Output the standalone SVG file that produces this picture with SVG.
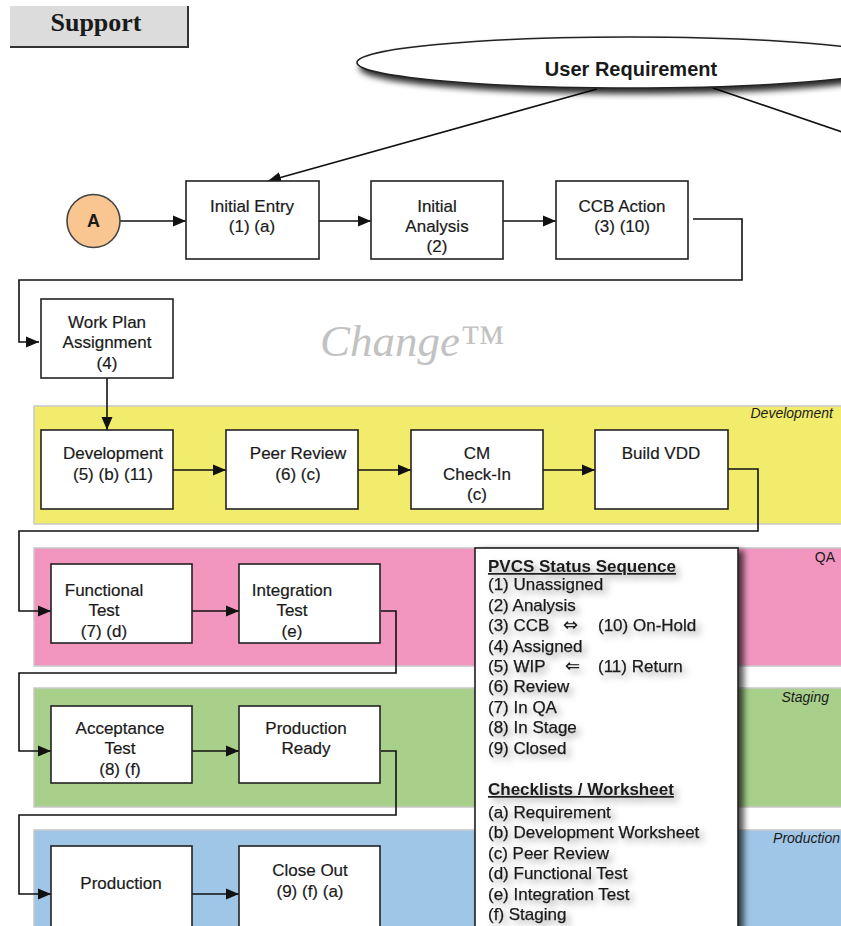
<svg xmlns="http://www.w3.org/2000/svg" width="841" height="926" viewBox="0 0 841 926">
  <defs>
    <marker id="arrow" markerUnits="userSpaceOnUse" markerWidth="14" markerHeight="12" refX="13" refY="6" orient="auto">
      <path d="M0,0.5 L13,6 L0,11.5 z" fill="#111"/>
    </marker>
    <filter id="dropShadow" x="-10%" y="-30%" width="130%" height="180%">
      <feGaussianBlur in="SourceAlpha" stdDeviation="3"/>
      <feOffset dx="3" dy="5" result="blur"/>
      <feComponentTransfer><feFuncA type="linear" slope="0.85"/></feComponentTransfer>
      <feMerge><feMergeNode/><feMergeNode in="SourceGraphic"/></feMerge>
    </filter>
    <filter id="boxShadow" x="-10%" y="-5%" width="130%" height="120%">
      <feGaussianBlur in="SourceAlpha" stdDeviation="3"/>
      <feOffset dx="5" dy="3"/>
      <feComponentTransfer><feFuncA type="linear" slope="0.7"/></feComponentTransfer>
      <feMerge><feMergeNode/><feMergeNode in="SourceGraphic"/></feMerge>
    </filter>
    <filter id="textHalo" x="-10%" y="-30%" width="130%" height="190%">
      <feGaussianBlur in="SourceAlpha" stdDeviation="3.5"/>
      <feOffset dx="4" dy="4"/>
      <feComponentTransfer><feFuncA type="linear" slope="0.35"/></feComponentTransfer>
      <feMerge><feMergeNode/><feMergeNode in="SourceGraphic"/></feMerge>
    </filter>
  </defs>
  <style>
    text { font-family: "Liberation Sans", Arial, sans-serif; fill: #1a1a1a; }
    .lbl { font-size: 17px; text-anchor: middle; stroke: #1a1a1a; stroke-width: 0.2; }
    .box { fill: #ffffff; stroke: #222; stroke-width: 1.6; }
    .band { stroke: #c8c8c8; stroke-width: 1.5; }
    .zone { font-size: 14px; font-style: italic; text-anchor: end; }
    .conn { fill: none; stroke: #111; stroke-width: 1.6; }
    .arr { marker-end: url(#arrow); }
    .legend { font-size: 17px; stroke: #1a1a1a; stroke-width: 0.25; }
    text.sym { font-family: "DejaVu Sans", sans-serif; font-size: 18px; stroke-width: 0.1; }
    .head { font-size: 17px; font-weight: bold; text-decoration: underline; }
  </style>

  <rect width="841" height="926" fill="#ffffff"/>

  <!-- swimlane bands -->
  <g id="band-development">
    <rect class="band" x="34" y="406" width="820" height="118" fill="#f2ec6c"/>
    <text class="zone" x="833" y="418">Development</text>
  </g>
  <g id="band-qa">
    <rect class="band" x="34" y="548" width="820" height="118" fill="#f296bf"/>
    <text class="zone" x="835" y="562" style="font-style:normal">QA</text>
  </g>
  <g id="band-staging">
    <rect class="band" x="34" y="688" width="820" height="119" fill="#a8d08b"/>
    <text class="zone" x="829" y="702">Staging</text>
  </g>
  <g id="band-production">
    <rect class="band" x="34" y="830" width="820" height="110" fill="#9fc5e7"/>
    <text class="zone" x="840" y="843">Production</text>
  </g>

  <!-- title tab -->
  <g id="support">
    <rect x="10" y="6" width="178" height="41" fill="#dcdcdc"/>
    <path d="M188,6 V47 H10" fill="none" stroke="#333" stroke-width="2"/>
    <text x="96" y="31" style="font-family:'Liberation Serif','Times New Roman',serif;font-weight:bold;font-size:26px;text-anchor:middle">Support</text>
  </g>

  <!-- watermark -->
  <text x="320" y="356" style="font-family:'Liberation Serif','Times New Roman',serif;font-style:italic;font-size:45px;fill:#c2c2c2">Change™</text>

  <!-- connectors -->
  <g id="connectors">
    <path class="conn arr" d="M597,89 L268,181"/>
    <path class="conn" d="M713,88 L845,133"/>
    <path class="conn arr" d="M120,221 H186"/>
    <path class="conn arr" d="M319,221 H371"/>
    <path class="conn arr" d="M503,221 H556"/>
    <path class="conn arr" d="M693,219 H742 V280 H19 V342 H39"/>
    <path class="conn arr" d="M107,378 V430"/>
    <path class="conn arr" d="M173,470 H226"/>
    <path class="conn arr" d="M358,470 H411"/>
    <path class="conn arr" d="M543,470 H595"/>
    <path class="conn arr" d="M727,469 H758 V531 H19 V611 H51"/>
    <path class="conn arr" d="M192,611 H239"/>
    <path class="conn arr" d="M381,611 H396 V673 H19 V751 H51"/>
    <path class="conn arr" d="M192,751 H239"/>
    <path class="conn arr" d="M381,751 H396 V815 H19 V894 H51"/>
    <path class="conn arr" d="M192,894 H239"/>
  </g>

  <!-- top ellipse -->
  <g id="user-requirement">
    <ellipse cx="630" cy="62.5" rx="273" ry="25.5" fill="#ffffff" stroke="#222" stroke-width="1.6" filter="url(#dropShadow)"/>
    <text x="631" y="76" style="font-size:20px;font-weight:bold;text-anchor:middle">User Requirement</text>
  </g>

  <g id="connector-a">
    <circle cx="93.5" cy="221" r="26.5" fill="#f9c590" stroke="#444" stroke-width="1.6"/>
    <text x="93.5" y="227" style="font-size:18px;font-weight:bold;text-anchor:middle">A</text>
  </g>

  <g id="initial-entry">
    <rect class="box" x="186" y="181" width="133" height="78"/>
    <text class="lbl" x="252" y="212">Initial Entry</text>
    <text class="lbl" x="252" y="232">(1) (a)</text>
  </g>
  <g id="initial-analysis">
    <rect class="box" x="371" y="181" width="132" height="78"/>
    <text class="lbl" x="437" y="212">Initial</text>
    <text class="lbl" x="437" y="232">Analysis</text>
    <text class="lbl" x="437" y="252">(2)</text>
  </g>
  <g id="ccb-action">
    <rect class="box" x="556" y="181" width="132" height="78"/>
    <text class="lbl" x="622" y="212">CCB Action</text>
    <text class="lbl" x="622" y="232">(3) (10)</text>
  </g>
  <g id="work-plan">
    <rect class="box" x="41" y="299" width="132" height="79"/>
    <text class="lbl" x="107" y="328">Work Plan</text>
    <text class="lbl" x="107" y="348">Assignment</text>
    <text class="lbl" x="107" y="369">(4)</text>
  </g>

  <g id="development">
    <rect class="box" x="41" y="430" width="132" height="79"/>
    <text class="lbl" x="113" y="459">Development</text>
    <text class="lbl" x="113" y="480">(5) (b) (11)</text>
  </g>
  <g id="peer-review">
    <rect class="box" x="226" y="430" width="132" height="79"/>
    <text class="lbl" x="298" y="459">Peer Review</text>
    <text class="lbl" x="298" y="480">(6) (c)</text>
  </g>
  <g id="cm-check-in">
    <rect class="box" x="411" y="430" width="132" height="79"/>
    <text class="lbl" x="477" y="459">CM</text>
    <text class="lbl" x="477" y="480">Check-In</text>
    <text class="lbl" x="477" y="500">(c)</text>
  </g>
  <g id="build-vdd">
    <rect class="box" x="595" y="430" width="133" height="79"/>
    <text class="lbl" x="661" y="459">Build VDD</text>
  </g>

  <g id="functional-test">
    <rect class="box" x="51" y="564" width="141" height="79"/>
    <text class="lbl" x="104" y="596">Functional</text>
    <text class="lbl" x="104" y="616">Test</text>
    <text class="lbl" x="104" y="637">(7) (d)</text>
  </g>
  <g id="integration-test">
    <rect class="box" x="239" y="564" width="141" height="79"/>
    <text class="lbl" x="292" y="596">Integration</text>
    <text class="lbl" x="292" y="616">Test</text>
    <text class="lbl" x="292" y="637">(e)</text>
  </g>

  <g id="acceptance-test">
    <rect class="box" x="51" y="706" width="141" height="77"/>
    <text class="lbl" x="120" y="734">Acceptance</text>
    <text class="lbl" x="120" y="754">Test</text>
    <text class="lbl" x="120" y="775">(8) (f)</text>
  </g>
  <g id="production-ready">
    <rect class="box" x="239" y="706" width="141" height="77"/>
    <text class="lbl" x="306" y="734">Production</text>
    <text class="lbl" x="306" y="754">Ready</text>
  </g>

  <g id="production">
    <rect class="box" x="51" y="846" width="141" height="90"/>
    <text class="lbl" x="121" y="889">Production</text>
  </g>
  <g id="close-out">
    <rect class="box" x="239" y="846" width="141" height="90"/>
    <text class="lbl" x="310" y="876">Close Out</text>
    <text class="lbl" x="310" y="897">(9) (f) (a)</text>
  </g>

  <!-- status / checklist legend -->
  <g id="legend">
    <rect x="475" y="548" width="263" height="400" fill="#ffffff" stroke="#222" stroke-width="1.6" filter="url(#boxShadow)"/>
    <g filter="url(#textHalo)">
      <text class="head" x="488" y="572">PVCS Status Sequence</text>
      <text class="legend" x="488" y="590">(1) Unassigned</text>
      <text class="legend" x="488" y="611">(2) Analysis</text>
      <text class="legend" x="488" y="631">(3) CCB</text>
      <text class="legend sym" x="563" y="631">⇔</text>
      <text class="legend" x="598" y="631">(10) On-Hold</text>
      <text class="legend" x="488" y="652">(4) Assigned</text>
      <text class="legend" x="488" y="672">(5) WIP</text>
      <text class="legend sym" x="565" y="672">⇐</text>
      <text class="legend" x="598" y="672">(11) Return</text>
      <text class="legend" x="488" y="692">(6) Review</text>
      <text class="legend" x="488" y="713">(7) In QA</text>
      <text class="legend" x="488" y="733">(8) In Stage</text>
      <text class="legend" x="488" y="754">(9) Closed</text>
      <text class="head" x="488" y="795">Checklists / Worksheet</text>
      <text class="legend" x="488" y="818">(a) Requirement</text>
      <text class="legend" x="488" y="838">(b) Development Worksheet</text>
      <text class="legend" x="488" y="859">(c) Peer Review</text>
      <text class="legend" x="488" y="879">(d) Functional Test</text>
      <text class="legend" x="488" y="900">(e) Integration Test</text>
      <text class="legend" x="488" y="920">(f) Staging</text>
    </g>
  </g>
</svg>
